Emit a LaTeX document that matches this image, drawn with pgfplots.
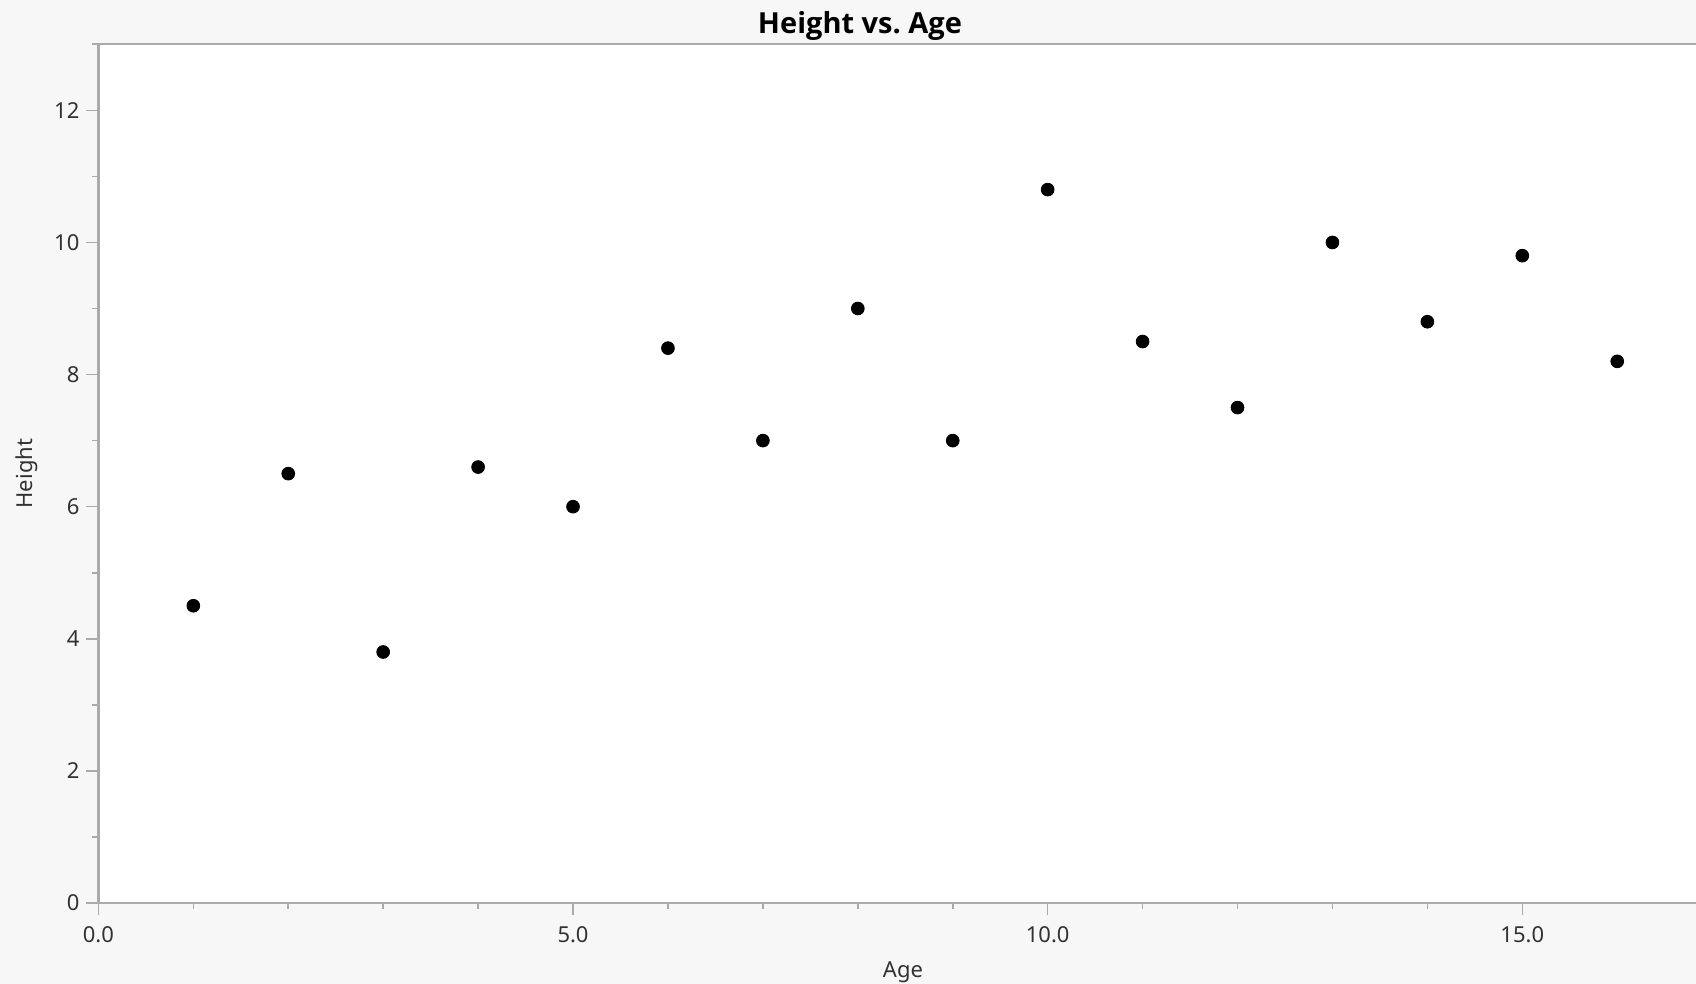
\documentclass[border=0pt]{standalone}
\usepackage{pgfplots}
\pgfplotsset{compat=1.18}
\usepackage{fontspec}
\setmainfont{Noto Sans}
\newfontfamily\titlefont{Open Sans}[BoldFont={Open Sans Bold}]
\usetikzlibrary{backgrounds,calc}
\definecolor{bgcol}{RGB}{247,247,247}
\definecolor{axgray}{RGB}{170,170,170}
\definecolor{txt}{RGB}{50,50,50}
\begin{document}
\begin{tikzpicture}
\begin{axis}[
  name=ax,
  at={(0,0)}, anchor=south west,
  scale only axis,
  width=798.8pt, height=429.35pt,
  xmin=0, xmax=16.83, ymin=0, ymax=13,
  axis lines*=left,
  axis line style={draw=axgray, line width=1.2pt},
  axis background/.style={fill=white},
  xtick={0,5,10,15}, minor x tick num=4,
  ytick={0,2,4,6,8,10,12}, minor y tick num=1,
  tick align=outside,
  major tick length=6pt, minor tick length=3pt,
  every tick/.style={draw=axgray, line width=0.8pt},
  tick label style={font=\fontsize{11}{13}\selectfont, text=txt},
  /pgf/number format/assume math mode=true,
  xticklabel style={yshift=-2pt, /pgf/number format/.cd, fixed, fixed zerofill, precision=1},
  title={Height vs.\ Age},
  every axis title/.style={font=\titlefont\bfseries\fontsize{14.5}{18}\selectfont, at={([yshift=9pt]axis description cs:0.4767,1)}, anchor=center},
  xlabel={Age}, ylabel={Height},
  every axis x label/.style={at={([yshift=-34.5pt]axis description cs:0.5036,0)}, anchor=center, font=\fontsize{11}{13}\selectfont, text=txt},
  every axis y label/.style={at={([xshift=-35.7pt]axis description cs:0,0.5)}, anchor=center, rotate=90, font=\fontsize{11}{13}\selectfont, text=txt},
  clip=false,
]
\addplot[only marks, mark=*, mark size=3.2pt, black] coordinates {
(1,4.5) (2,6.5) (3,3.8) (4,6.6) (5,6.0) (6,8.4) (7,7.0) (8,9.0)
(9,7.0) (10,10.8) (11,8.5) (12,7.5) (13,10.0) (14,8.8) (15,9.8) (16,8.2)
};
\draw[axgray, line width=1.2pt] ([xshift=-3pt]rel axis cs:0,1) -- (rel axis cs:1,1);
\end{axis}
\begin{scope}[on background layer]
\fill[bgcol] ($(ax.south west)+(-49.2pt,-40.5pt)$) rectangle ($(ax.north east)+(0,22.15pt)$);
\end{scope}
\pgfresetboundingbox
\path[use as bounding box] ($(ax.south west)+(-49.2pt,-40.5pt)$) rectangle ($(ax.north east)+(0,22.15pt)$);
\end{tikzpicture}
\end{document}
